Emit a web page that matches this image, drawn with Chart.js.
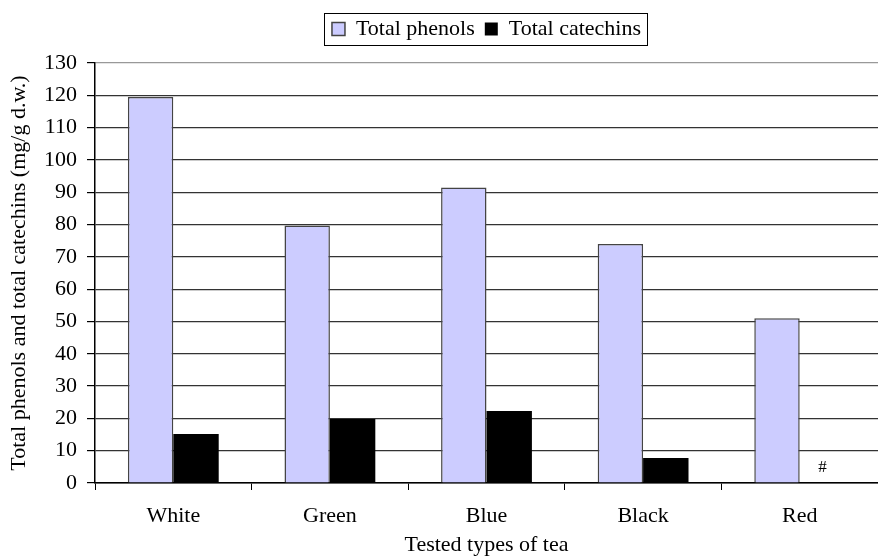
<!DOCTYPE html>
<html>
<head>
<meta charset="utf-8">
<script src="https://cdn.jsdelivr.net/npm/chart.js@4.4.0/dist/chart.umd.min.js"></script>
<style>
  html, body { margin: 0; padding: 0; background: #fff; }
  #wrap { width: 878px; height: 558px; position: relative; }
</style>
</head>
<body>
<div id="wrap"><canvas id="teaChart"></canvas></div>
<script>
// tea types and measured values (mg/g d.w.)
const teaTypes = ['White', 'Green', 'Blue', 'Black', 'Red'];
const totalPhenols = [119.5, 79.7, 91.5, 74, 51];
const totalCatechins = [15.2, 19.8, 22.3, 7.7, 0];
const catechinNotes = ['', '', '', '', '#'];   // '#' = not detected
const yTicks = [0, 10, 20, 30, 40, 50, 60, 70, 80, 90, 100, 110, 120, 130];

const serif = '"Liberation Serif", "Times New Roman", serif';

// legend sits over the plot area (not the whole canvas), a bit higher, in a box
const legendBox = {
    id: 'legendBox',
    afterLayout(chart) {
        const lg = chart.legend;
        lg.left = chart.chartArea.left;
        lg.right = chart.chartArea.right;
        lg.top -= 13;
        lg.bottom -= 13;
    },
    afterDraw(chart) {
        const lg = chart.legend;
        if (!lg || !lg.legendHitBoxes.length) return;
        const boxes = lg.legendHitBoxes;
        const first = boxes[0], last = boxes[boxes.length - 1];
        const ctx = chart.ctx;
        ctx.save();
        ctx.strokeStyle = '#000';
        ctx.lineWidth = 1;
        const x0 = first.left - 8, x1 = last.left + last.width + 6;
        const y0 = first.top - 5, y1 = first.top + first.height + 5;
        ctx.strokeRect(Math.round(x0) + 0.5, Math.round(y0) + 0.5, Math.round(x1 - x0), Math.round(y1 - y0));
        ctx.restore();
    }
};

// small notes ('#') drawn where a catechin bar is missing
const barNotes = {
    id: 'barNotes',
    afterDatasetsDraw(chart) {
        const meta = chart.getDatasetMeta(1);
        const y = chart.scales.y;
        const ctx = chart.ctx;
        ctx.save();
        ctx.fillStyle = '#000';
        ctx.font = '17px ' + serif;
        ctx.textAlign = 'center';
        ctx.textBaseline = 'bottom';
        catechinNotes.forEach((note, i) => {
            if (!note) return;
            ctx.fillText(note, meta.data[i].x, y.getPixelForValue(0) - 7);
        });
        ctx.restore();
    }
};

const chart = new Chart(document.getElementById('teaChart'), {
    type: 'bar',
    data: {
        labels: teaTypes,
        datasets: [
            {
                label: 'Total phenols',
                data: totalPhenols,
                backgroundColor: '#ccccff',
                borderColor: '#444',
                borderWidth: 1.5
            },
            {
                label: 'Total catechins',
                data: totalCatechins,
                backgroundColor: '#000',
                borderWidth: 0
            }
        ]
    },
    options: {
        responsive: true,
        maintainAspectRatio: false,
        animation: false,
        layout: { padding: { top: 21, left: 0, right: 0, bottom: 0 } },
        datasets: {
            bar: { categoryPercentage: 0.58, barPercentage: 1.0 }
        },
        plugins: {
            tooltip: { enabled: false },
            legend: {
                position: 'top',
                labels: {
                    font: { family: serif, size: 22 },
                    color: '#000',
                    boxWidth: 13,
                    boxHeight: 13,
                    padding: 10
                }
            }
        },
        scales: {
            x: {
                afterFit(axis) { axis.height = 75; },
                grid: {
                    display: true,
                    drawOnChartArea: false,
                    offset: true,
                    tickLength: 7,
                    tickColor: '#000'
                },
                border: { color: '#000', width: 1.5 },
                ticks: {
                    font: { family: serif, size: 22 },
                    color: '#000',
                    padding: 13
                },
                title: {
                    display: true,
                    text: 'Tested types of tea',
                    font: { family: serif, size: 22 },
                    color: '#000',
                    padding: { top: 0, bottom: 0 }
                }
            },
            y: {
                min: 0,
                max: 130,
                afterFit(axis) { axis.width = 95; },
                afterBuildTicks(axis) {
                    axis.ticks = yTicks.map(v => ({ value: v }));
                },
                grid: {
                    color: c => (c.tick && c.tick.value === 130 ? '#999' : '#333'),
                    tickColor: '#000',
                    tickLength: 8,
                    lineWidth: 1.2
                },
                border: { color: '#000', width: 1.5 },
                ticks: {
                    font: { family: serif, size: 22 },
                    color: '#000',
                    padding: 10
                },
                title: {
                    display: true,
                    text: 'Total phenols and total catechins (mg/g d.w.)',
                    font: { family: serif, size: 22 },
                    color: '#000',
                    padding: { top: 6, bottom: 0 }
                }
            }
        }
    },
    plugins: [legendBox, barNotes]
});
</script>
</body>
</html>
